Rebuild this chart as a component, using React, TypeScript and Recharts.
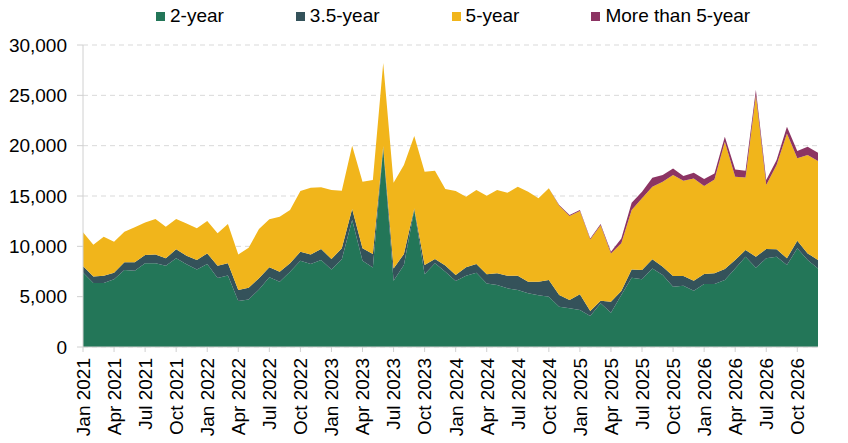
import React from 'react';
import { AreaChart, Area, XAxis, YAxis, CartesianGrid } from 'recharts';

// Monthly volumes by fixed-rate term, Jan 2021 – Dec 2026
const years = [2021, 2022, 2023, 2024, 2025, 2026];
const monthNames = ['Jan', 'Feb', 'Mar', 'Apr', 'May', 'Jun', 'Jul', 'Aug', 'Sep', 'Oct', 'Nov', 'Dec'];

const twoYear = [
  7400, 6350, 6350, 6720, 7650, 7580, 8310, 8310, 8080, 8810,
  8210, 7710, 8240, 6850, 7100, 4570, 4730, 5720, 6920, 6490,
  7480, 8570, 8240, 8640, 7710, 8710, 12610, 8570, 7900, 19730,
  6590, 8140, 13600, 7220, 8310, 7480, 6550, 7080, 7380, 6320,
  6160, 5830, 5660, 5330, 5130, 5000, 4000, 3840, 3670, 3080,
  4340, 3410, 5160, 6880, 6720, 7810, 7150, 5990, 6090, 5590,
  6260, 6260, 6650, 7810, 8970, 7880, 8810, 8970, 8140, 9800,
  8640, 7810,
];

const threeHalfYear = [
  650, 650, 730, 660, 760, 830, 830, 890, 730, 890,
  860, 930, 1060, 1220, 1210, 1090, 1160, 1100, 990, 990,
  830, 890, 960, 1090, 1030, 1090, 1090, 1230, 1350, 220,
  1220, 1090, 150, 920, 440, 620, 600, 830, 860, 900,
  1160, 1250, 1420, 1160, 1360, 1650, 1160, 830, 1560, 490,
  260, 1090, 400, 830, 930, 900, 830, 1060, 960, 1000,
  990, 1060, 1100, 830, 660, 1090, 920, 730, 670, 760,
  660, 830,
];

const fiveYear = [
  3350, 3150, 3870, 3080, 3040, 3480, 3240, 3510, 3140, 3010,
  3210, 3150, 3210, 3220, 3900, 3540, 3970, 4900, 4770, 5460,
  5290, 6030, 6620, 6130, 6850, 5720, 6290, 6610, 7350, 8250,
  8510, 8840, 7200, 9270, 8760, 7590, 8340, 7010, 7350, 7810,
  8270, 8240, 8840, 8930, 8280, 9110, 8860, 8340, 8270, 7120,
  7490, 4800, 4740, 5890, 7120, 7210, 8430, 10030, 9460, 10160,
  8740, 9330, 12640, 8270, 7220, 16050, 6360, 8370, 12410, 8180,
  9770, 9830,
];

const moreThanFive = [
  0, 0, 0, 0, 0, 0, 0, 0, 0, 0,
  0, 0, 0, 0, 0, 0, 0, 0, 0, 0,
  0, 0, 0, 0, 0, 0, 0, 0, 0, 0,
  0, 0, 0, 0, 0, 0, 0, 0, 0, 0,
  0, 0, 0, 0, 0, 0, 80, 100, 100, 100,
  120, 160, 490, 730, 650, 890, 670, 660, 470, 560,
  690, 590, 490, 730, 660, 500, 490, 500, 660, 720,
  820, 820,
];

const yTicks = [0, 5000, 10000, 15000, 20000, 25000, 30000];

const series = [
  { key: 'twoYear', name: '2-year', color: '#237658' },
  { key: 'threeHalfYear', name: '3.5-year', color: '#34525a' },
  { key: 'fiveYear', name: '5-year', color: '#f1b51b' },
  { key: 'moreThanFive', name: 'More than 5-year', color: '#8c3463' },
];

const months = years.flatMap((y) => monthNames.map((m) => `${m} ${y}`));

const data = months.map((month, i) => ({
  month,
  twoYear: twoYear[i],
  threeHalfYear: threeHalfYear[i],
  fiveYear: fiveYear[i],
  moreThanFive: moreThanFive[i],
}));

const font = '"Liberation Sans", Arial, sans-serif';

const MonthTick = (props: any) => {
  const { x, y, payload } = props;
  return (
    <text
      x={x}
      y={y}
      transform={`rotate(-90, ${x}, ${y})`}
      textAnchor="end"
      dy="0.36em"
      fontSize={19}
      fontFamily={font}
      fill="#000"
    >
      {payload.value}
    </text>
  );
};

const App: React.FC = () => {
  return (
    <div style={{ position: 'absolute', left: 0, top: 0, width: 848, height: 443, background: '#fff' }}>
      {/* legend row */}
      <div
        style={{
          position: 'absolute',
          top: 4,
          left: 156,
          display: 'flex',
          gap: 72,
          fontFamily: font,
          fontSize: 19,
          lineHeight: '24px',
          color: '#000',
        }}
      >
        {series.map((s) => (
          <div key={s.key} style={{ display: 'flex', alignItems: 'center' }}>
            <span style={{ width: 9, height: 9, background: s.color, marginRight: 5, display: 'inline-block' }} />
            <span>{s.name}</span>
          </div>
        ))}
      </div>
      <AreaChart width={848} height={443} data={data} margin={{ top: 45, right: 30, left: 0, bottom: 0 }}>
        <CartesianGrid vertical={false} stroke="#d9d9d9" strokeDasharray="5 4" />
        <XAxis
          dataKey="month"
          interval={2}
          height={96}
          stroke="#d0d0d0"
          tickSize={5}
          tickMargin={6}
          tick={<MonthTick />}
        />
        <YAxis
          width={83}
          domain={[0, 30000]}
          ticks={yTicks}
          interval={0}
          stroke="#d0d0d0"
          tickSize={6}
          tickMargin={10}
          tick={{ fill: '#000', fontSize: 19, fontFamily: font }}
          tickFormatter={(v: number) => v.toLocaleString('en-GB')}
        />
        {series.map((s) => (
          <Area
            key={s.key}
            type="linear"
            dataKey={s.key}
            name={s.name}
            stackId="1"
            fill={s.color}
            fillOpacity={1}
            stroke="none"
            isAnimationActive={false}
          />
        ))}
      </AreaChart>
    </div>
  );
};

export default App;
